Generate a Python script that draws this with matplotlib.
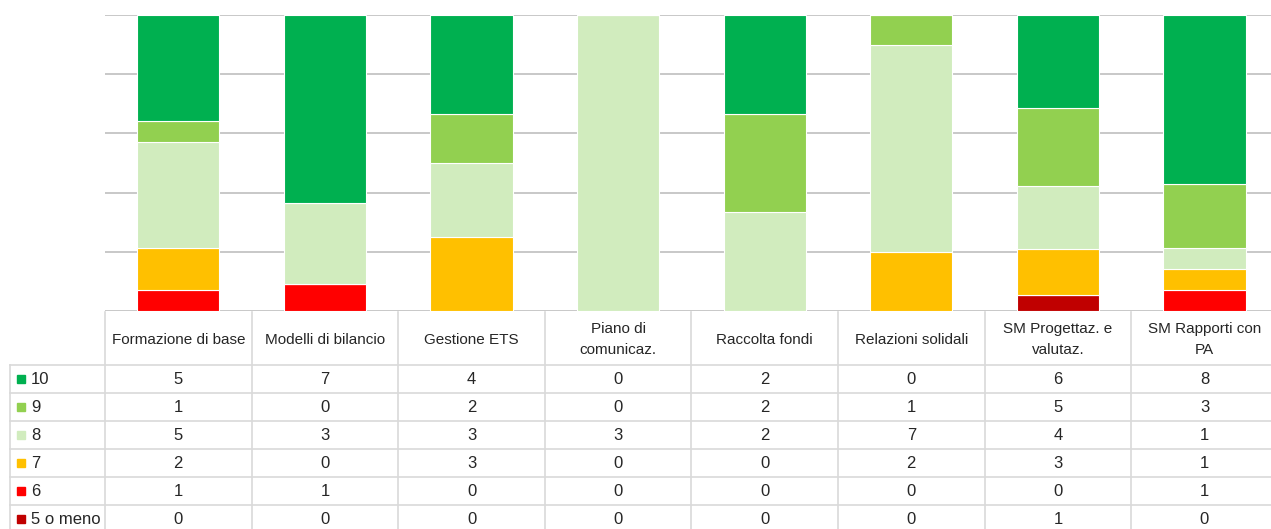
import matplotlib
matplotlib.use("Agg")
import matplotlib.pyplot as plt
from matplotlib import font_manager
from matplotlib.patches import Rectangle

categories = ["Formazione di base", "Modelli di bilancio", "Gestione ETS", "Piano di\ncomunicaz.",
              "Raccolta fondi", "Relazioni solidali", "SM Progettaz. e\nvalutaz.", "SM Rapporti con\nPA"]
series_names = ["10", "9", "8", "7", "6", "5 o meno"]
v10 = [5, 7, 4, 0, 2, 0, 6, 8]
v9 = [1, 0, 2, 0, 2, 1, 5, 3]
v8 = [5, 3, 3, 3, 2, 7, 4, 1]
v7 = [2, 0, 3, 0, 0, 2, 3, 1]
v6 = [1, 1, 0, 0, 0, 0, 0, 1]
v5 = [0, 0, 0, 0, 0, 0, 1, 0]
series = [v10, v9, v8, v7, v6, v5]
colors = ["#00B050", "#92D050", "#D1ECBE", "#FFC000", "#FF0000", "#C00000"]

names = {f.name for f in font_manager.fontManager.ttflist}
if "Liberation Sans Narrow" in names:
    FONT = "Liberation Sans Narrow"; FS = 13; FSN = 13
else:
    FONT = "Liberation Sans"; FS = 11; FSN = 12
plt.rcParams['font.family'] = [FONT, 'DejaVu Sans']

W, H = 1271, 529
fig = plt.figure(figsize=(W / 100, H / 100), dpi=100)

def frac(x0, y0, x1, y1):
    return [x0 / W, 1 - y1 / H, (x1 - x0) / W, (y1 - y0) / H]

n = len(categories)
left, top, bottom = 105, 15, 311
colw = 146.6
right = left + n * colw
ax = fig.add_axes(frac(left, top, right, bottom))
totals = [sum(s[i] for s in series) for i in range(n)]
base = [0.0] * n
for s, c in reversed(list(zip(series, colors))):
    vals = [s[i] / totals[i] * 100 for i in range(n)]
    ax.bar(range(n), vals, bottom=base, width=0.56, color=c, edgecolor="white", linewidth=0.8, zorder=3)
    base = [b + v for b, v in zip(base, vals)]
ax.set_xlim(-0.5, n - 0.5)
ax.set_ylim(0, 100)
ax.set_yticks([0, 20, 40, 60, 80, 100])
ax.yaxis.grid(True, color="#BFBFBF", linewidth=1.2, zorder=0)
ax.set_xticks([])
ax.tick_params(left=False, labelleft=False)
for sp in ax.spines.values():
    sp.set_visible(False)

# table
tax = fig.add_axes([0, 0, 1, 1])
tax.set_xlim(0, W)
tax.set_ylim(H, 0)
tax.axis("off")
lc = "#D9D9D9"
tc = "#262626"
hdr_top, hdr_bot = 312, 365
rowh = 28
leftcol = 10
for i in range(n + 1):
    x = left + i * colw
    tax.plot([x, x], [hdr_top, H], color=lc, lw=1.2)
tax.plot([leftcol, leftcol], [hdr_bot, H], color=lc, lw=1.2)
for r in range(len(series_names)):
    y = hdr_bot + r * rowh
    tax.plot([leftcol, W], [y, y], color=lc, lw=1.2)
for i, cat in enumerate(categories):
    tax.text(left + (i + 0.5) * colw, (hdr_top + hdr_bot) / 2 + 1, cat, ha="center", va="center",
             fontsize=FS, color=tc, linespacing=1.55)
for r, (name, s, c) in enumerate(zip(series_names, series, colors)):
    yc = hdr_bot + r * rowh + rowh / 2
    tax.add_patch(Rectangle((17, yc - 4), 8, 8, color=c))
    tax.text(31, yc + 1, name, ha="left", va="center", fontsize=FSN, color=tc)
    for i in range(n):
        tax.text(left + (i + 0.5) * colw, yc + 1, str(s[i]), ha="center", va="center",
                 fontsize=FSN, color=tc)

fig.savefig("out.png", dpi=100)
